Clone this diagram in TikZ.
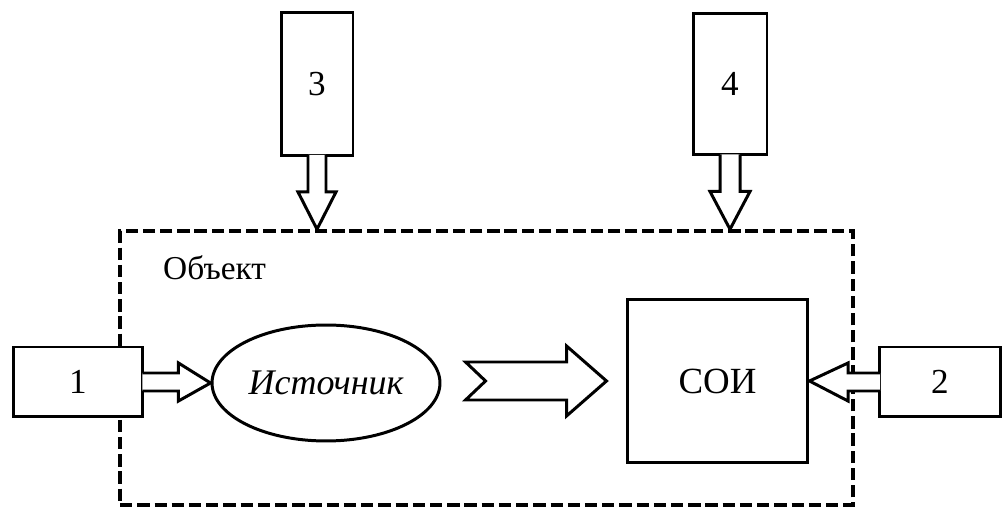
\documentclass[tikz,border=0pt]{standalone}
\usepackage{fontspec}
\setmainfont{Liberation Serif}
\usepackage{tikz}
\usetikzlibrary{shapes,shapes.geometric,calc,positioning}

\begin{document}
\begin{tikzpicture}[x=0.02cm,y=-0.02cm]
	\tikzstyle{bbox}=[rectangle,draw,line width=1.7pt,fill=white,inner sep=0pt,font=\fontsize{20}{24}\selectfont]
	\tikzstyle{barrow}=[draw,line width=1.7pt,fill=white,line join=miter]
	\tikzstyle{objframe}=[rectangle,draw,line width=2pt,dash pattern=on 7pt off 2.8pt,minimum width=14.66cm,minimum height=5.48cm,inner sep=0pt]
	\useasboundingbox (0,0) rectangle (1004,509);
	\node[objframe] (obj) at (486.5,368) {};
	\node[anchor=west,font=\fontsize{19}{23}\selectfont] (objlbl) at (157,268) {Объект};
	\node[bbox,minimum width=2.6cm,minimum height=1.4cm] (b1) at (78,382) {1};
	\node[bbox,minimum width=2.42cm,minimum height=1.4cm] (b2) at (940,382) {2};
	\node[bbox,minimum width=1.44cm,minimum height=2.86cm] (b3) at (317,84) {3};
	\node[bbox,minimum width=1.48cm,minimum height=2.84cm] (b4) at (730,84) {4};
	\node[ellipse,draw,line width=1.7pt,minimum width=4.56cm,minimum height=2.32cm,inner sep=0pt,font=\fontsize{20.5}{24}\selectfont\itshape] (src) at (326,383) {Источник};
	\node[bbox,minimum width=3.62cm,minimum height=3.28cm,font=\fontsize{21}{25}\selectfont] (soi) at (717.5,381) {СОИ};
	\draw[barrow] ($(b1.east)+(-2,-9)$) -- ($(b1.east)+(34,-9)$) -- ($(b1.east)+(34,-19)$) -- (src.west)
		-- ($(b1.east)+(34,19)$) -- ($(b1.east)+(34,9)$) -- ($(b1.east)+(-2,9)$);
	\draw[barrow] ($(b2.west)+(2,-9)$) -- ($(b2.west)+(-30,-9)$) -- ($(b2.west)+(-30,-19)$) -- (soi.east)
		-- ($(b2.west)+(-30,19)$) -- ($(b2.west)+(-30,9)$) -- ($(b2.west)+(2,9)$);
	\draw[barrow] ($(b3.south)+(-9,-2)$) -- ($(b3.south)+(-9,35)$) -- ($(b3.south)+(-19,35)$) -- (b3.south |- obj.north)
		-- ($(b3.south)+(19,35)$) -- ($(b3.south)+(9,35)$) -- ($(b3.south)+(9,-2)$);
	\draw[barrow] ($(b4.south)+(-10,-2)$) -- ($(b4.south)+(-10,35)$) -- ($(b4.south)+(-20,35)$) -- (b4.south |- obj.north)
		-- ($(b4.south)+(20,35)$) -- ($(b4.south)+(10,35)$) -- ($(b4.south)+(10,-2)$);
	\coordinate (tip) at ($(soi.west)+(-19,0)$);
	\draw[barrow] ($(tip)+(-141,-19)$) -- ($(tip)+(-40,-19)$) -- ($(tip)+(-40,-35)$) -- (tip)
		-- ($(tip)+(-40,35)$) -- ($(tip)+(-40,19)$) -- ($(tip)+(-141,19)$) -- ($(tip)+(-121,0)$) -- cycle;
\end{tikzpicture}
\end{document}
